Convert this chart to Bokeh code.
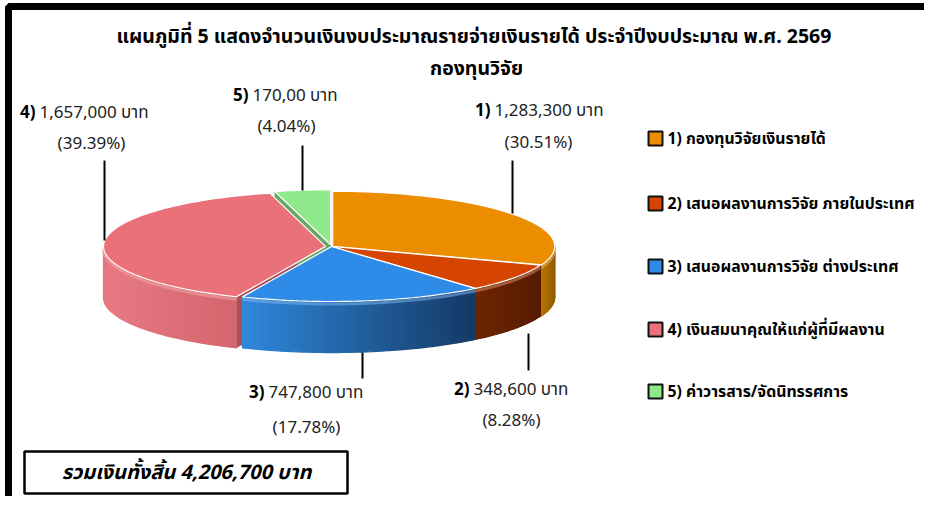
import numpy as np
from bokeh.plotting import figure
from bokeh.models import Range1d
from bokeh.core.properties import value
from bokeh.embed import file_html
from bokeh.resources import INLINE

# ---------------- data ----------------
title_lines = ["แผนภูมิที่ 5  แสดงจำนวนเงินงบประมาณรายจ่ายเงินรายได้ ประจำปีงบประมาณ พ.ศ. 2569",
               "กองทุนวิจัย"]
categories = ["1) กองทุนวิจัยเงินรายได้",
              "2) เสนอผลงานการวิจัย ภายในประเทศ",
              "3) เสนอผลงานการวิจัย ต่างประเทศ",
              "4) เงินสมนาคุณให้แก่ผู้ที่มีผลงาน",
              "5) ค่าวารสาร/จัดนิทรรศการ"]
numbers = ["1)", "2)", "3)", "4)", "5)"]
values = [1283300, 348600, 747800, 1657000, 170000]
amount_labels = ["1,283,300 บาท", "348,600 บาท", "747,800 บาท", "1,657,000 บาท", "170,00 บาท"]
percent_labels = ["(30.51%)", "(8.28%)", "(17.78%)", "(39.39%)", "(4.04%)"]
total_label = "รวมเงินทั้งสิ้น 4,206,700 บาท"

# ---------------- style / layout ----------------
colors = ["#EC8D00", "#D64500", "#2E8BE8", "#EA7079", "#8EE98B"]
side_left = ["#B87400", "#6E2600", "#3088DC", "#E87A84", "#6CC46A"]
side_right = ["#8E5C00", "#561C00", "#153A66", "#D4666E", "#5AA858"]
FONT = value("Tahoma, Noto Sans Thai, Noto Sans, sans-serif")
cx, cy, rx, ry, depth = 331.0, 246.0, 222.0, 55.0, 51.0
explode = [1.5, 0.0, 0.0, 6.0, 7.0]
anchor_pos = [(492, 110), (471, 389), (266, 392), (37, 112), (250, 95)]
pct_pos = [(538, 142), (511, 420), (306, 427), (91, 143), (286, 126)]
leaders = [(512, 160, 213), (528, 333, 370), (362, 352, 378), (104, 160, 240), (302, 145, 190)]
legend_x, legend_y = 655, [138, 203, 266, 329, 391]

p = figure(width=924, height=496, x_range=Range1d(0, 924), y_range=Range1d(496, 0),
           output_backend="svg", toolbar_location=None, min_border=0)
p.axis.visible = False
p.grid.visible = False
p.outline_line_color = None
p.background_fill_color = "white"
p.border_fill_color = "white"


def hex2rgb(h):
    h = h.lstrip("#")
    return np.array([int(h[i:i + 2], 16) for i in (0, 2, 4)], dtype=float)


def rgb2hex(c):
    c = np.clip(c, 0, 255).astype(int)
    return "#%02x%02x%02x" % tuple(c)


def pt(theta_deg, ox, oy):
    t = np.radians(theta_deg)
    return cx + ox + rx * np.sin(t), cy + oy - ry * np.cos(t)


fr = np.array(values, dtype=float) / np.sum(values)
ends = np.cumsum(fr) * 360.0
starts = ends - fr * 360.0

offsets = []
for i in range(len(values)):
    mid = np.radians((starts[i] + ends[i]) / 2)
    offsets.append((explode[i] * np.sin(mid), -explode[i] * np.cos(mid) * ry / rx))

# radial faces
fxs, fys, fcs = [], [], []
for i in range(len(values)):
    ox, oy = offsets[i]
    for a in (starts[i], ends[i]):
        x, y = pt(a, ox, oy)
        fxs.append([cx + ox, x, x, cx + ox])
        fys.append([cy + oy, y, y + depth, cy + oy + depth])
        fcs.append(rgb2hex(hex2rgb(colors[i]) * 0.72))
p.patches(fxs, fys, fill_color=fcs, line_color=fcs, line_width=0.5)

# side walls (front half only) with shading strips
sxs, sys_, scs = [], [], []
hl_xs, hl_ys, hl_cs = [], [], []
for i in range(len(values)):
    a0, a1 = max(starts[i], 90.0), min(ends[i], 270.0)
    if a1 <= a0:
        continue
    ox, oy = offsets[i]
    th = np.linspace(a0, a1, max(3, int((a1 - a0) / 1.5) + 2))
    xs_all, _ = pt(th, ox, oy)
    xmin, xmax = xs_all.min(), xs_all.max()
    cl, cr = hex2rgb(side_left[i]), hex2rgb(side_right[i])
    for j in range(len(th) - 1):
        x0, y0 = pt(th[j], ox, oy)
        x1, y1 = pt(th[j + 1], ox, oy)
        sxs.append([x0, x1, x1, x0])
        sys_.append([y0, y1, y1 + depth, y0 + depth])
        t = ((x0 + x1) / 2 - xmin) / max(xmax - xmin, 1e-6)
        scs.append(rgb2hex(cl * (1 - t) + cr * t))
    hx, hy = pt(th, ox, oy)
    hl_xs.append(list(hx))
    hl_ys.append(list(hy + 2.5))
    hl_cs.append(rgb2hex(hex2rgb(colors[i]) * 0.6 + 255 * 0.4))
p.patches(sxs, sys_, fill_color=scs, line_color=scs, line_width=1.3)
p.multi_line(hl_xs, hl_ys, line_color=hl_cs, line_width=3, line_alpha=0.5)

# top faces
txs, tys = [], []
for i in range(len(values)):
    ox, oy = offsets[i]
    th = np.linspace(starts[i], ends[i], max(3, int((ends[i] - starts[i]) / 1.0) + 2))
    x, y = pt(th, ox, oy)
    txs.append([cx + ox] + list(x))
    tys.append([cy + oy] + list(y))
p.patches(txs, tys, fill_color=colors, line_color="white", line_width=1.2)

# leader lines
p.segment(x0=[l[0] for l in leaders], y0=[l[1] for l in leaders],
          x1=[l[0] for l in leaders], y1=[l[2] for l in leaders],
          line_color="black", line_width=2)

# data labels
p.text(x=[a[0] - 2 for a in anchor_pos], y=[a[1] for a in anchor_pos], text=numbers,
       text_font=FONT, text_font_size="17px", text_font_style="bold",
       text_align="right", text_baseline="middle", text_color="black")
p.text(x=[a[0] + 2 for a in anchor_pos], y=[a[1] for a in anchor_pos], text=amount_labels,
       text_font=FONT, text_font_size="17px", text_align="left", text_baseline="middle",
       text_color="#222222")
p.text(x=[q[0] for q in pct_pos], y=[q[1] for q in pct_pos], text=percent_labels,
       text_font=FONT, text_font_size="17px", text_align="center", text_baseline="middle",
       text_color="#222222")

# title
p.text(x=[476, 476], y=[36, 68], text=title_lines, text_font=FONT, text_font_size="19.5px",
       text_font_style="bold", text_align="center", text_baseline="middle", text_color="black")

# legend
p.rect(x=[legend_x] * 5, y=legend_y, width=14, height=14, fill_color=colors,
       line_color="#111111", line_width=2)
p.text(x=[legend_x + 12] * 5, y=legend_y, text=categories, text_font=FONT,
       text_font_size="15.8px", text_font_style="bold", text_align="left",
       text_baseline="middle", text_color="black")

# total box
p.quad(left=[24], right=[347], top=[451], bottom=[493], fill_color="white",
       line_color="black", line_width=2.5)
p.text(x=[186], y=[472], text=[total_label], text_font=FONT, text_font_size="20px",
       text_font_style="bold italic", text_align="center", text_baseline="middle",
       text_color="black")

# outer frame (thick border, partly outside the page)
p.multi_line([[8, 8, 940]], [[520, 6, 6]], line_color="black", line_width=7)

open("out.html", "w").write(file_html(p, INLINE))
